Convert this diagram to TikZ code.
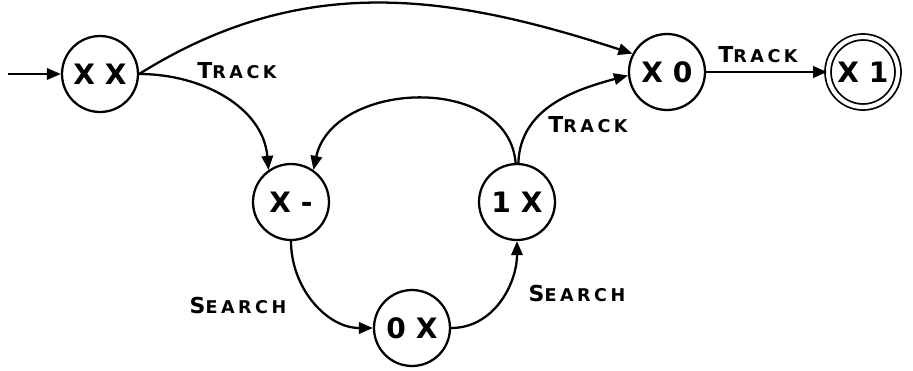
\documentclass[tikz,border=0pt]{standalone}
\usepackage{fontspec}
\setmainfont{DejaVu Sans}
\usetikzlibrary{arrows.meta}
\newcommand{\smcap}[2]{{\fontsize{12.5}{13}\selectfont\addfontfeature{LetterSpace=20}#1{\fontsize{10}{11}\selectfont #2}}}

\begin{document}
\begin{tikzpicture}[
    x=0.02cm, y=0.02cm,
    stnode/.style={circle, draw, line width=1.3pt, fill=white, minimum size=1.52cm, inner sep=0pt, font=\fontsize{16}{17}\selectfont\bfseries},
    accnode/.style={stnode, line width=1pt, double, double distance=2.4pt, minimum size=1.4cm},
    lbl/.style={font=\bfseries, inner sep=1pt},
    trans/.style={->, line width=1.3pt},
    >={Triangle[length=8pt,width=6.5pt]}
  ]
  \useasboundingbox (0,0) rectangle (913,370);

  % states
  \node[stnode] (xx) at (100,296) {X X};
  \node[stnode] (xzero) at (667,298) {X 0};
  \node[accnode] (xone) at (863,298) {X 1};
  \node[stnode] (xdash) at (291,168) {X -};
  \node[stnode] (onex) at (517,168) {1 X};
  \node[stnode] (zerox) at (412,42) {0 X};
  \coordinate (start) at (8,296);

  % transitions
  \draw[trans] (start) -- (xx);
  \draw[trans] (xx.east) to[out=32,in=162] (xzero.152);
  \draw[trans] (xx.east) to[out=0,in=95] (xdash.125);
  \draw[trans] (onex.92) to[out=95,in=78,looseness=1.15] (xdash.55);
  \draw[trans] (onex.88) to[out=88,in=195] (xzero.185);
  \draw[trans] (xdash.south) to[out=-90,in=180] (zerox.west);
  \draw[trans] (zerox.east) to[out=0,in=-90] (onex.south);
  \draw[trans] (xzero) -- (xone);

  % labels
  \node[lbl] (ltrackxx) at (237,299) {\smcap{T}{RACK}};
  \node[lbl] (ltrackacc) at (758,315) {\smcap{T}{RACK}};
  \node[lbl] (ltrackone) at (588,245) {\smcap{T}{RACK}};
  \node[lbl] (lsearchdash) at (238,65) {\smcap{S}{EARCH}};
  \node[lbl] (lsearchzero) at (577,77) {\smcap{S}{EARCH}};
\end{tikzpicture}
\end{document}
